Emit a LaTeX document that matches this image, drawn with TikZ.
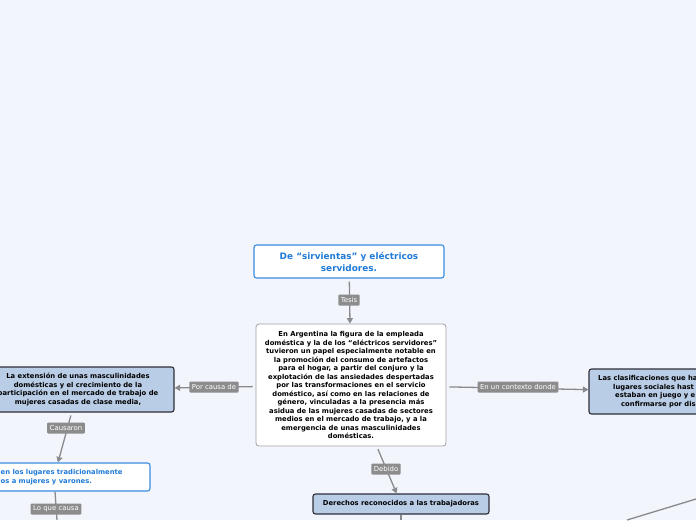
\documentclass[tikz,border=0pt]{standalone}
\usepackage{fontspec}
\setmainfont{DejaVu Sans}
\usetikzlibrary{arrows.meta}
\definecolor{bg}{HTML}{F3F5FD}
\definecolor{boxblue}{HTML}{B9CDE6}
\definecolor{darkline}{HTML}{2E2E38}
\definecolor{conncol}{HTML}{8A8A8E}
\definecolor{labcol}{HTML}{8C8C8C}
\definecolor{tblue}{HTML}{1F7AD8}
\definecolor{bblue}{HTML}{3A8DE0}
\definecolor{cgray}{HTML}{A0A0A8}
\begin{document}
\begin{tikzpicture}[x=1pt,y=-1pt,
  txt/.style={font=\fontsize{6.8}{8.5}\selectfont\bfseries, align=center, inner sep=0pt},
  bluebox/.style={txt, draw=darkline, fill=boxblue, rounded corners=2.5pt, line width=1.1pt},
  whitebox/.style={txt, draw=bblue, fill=white, text=tblue, rounded corners=2.5pt, line width=1.1pt},
  centralbox/.style={txt, draw=cgray, fill=white, rounded corners=3pt, line width=0.8pt},
  conn/.style={draw=conncol, line width=1.3pt},
  arr/.style={conn, -{Triangle[length=5.5pt,width=6pt]}, shorten <=3pt},
  lbl/.style={fill=labcol, text=white, font=\fontsize{6.9}{7}\selectfont, inner xsep=2.5pt, inner ysep=0pt, minimum height=11pt, rounded corners=1pt}
]
\useasboundingbox (0,0) rectangle (696,520);
\fill[bg] (0,0) rectangle (696,520);
\clip (0,0) rectangle (696,520);

% nodes
\node[whitebox, minimum width=190pt, minimum height=33pt, font=\fontsize{8.9}{12}\selectfont\bfseries] (title) at (349,261.5)
  {De “sirvientas” y eléctricos\\servidores.};
\node[centralbox, minimum width=190pt, minimum height=122pt] (central) at (351,385)
  {En Argentina la figura de la empleada\\
   doméstica y la de los “eléctricos servidores”\\
   tuvieron un papel especialmente notable en\\
   la promoción del consumo de artefactos\\
   para el hogar, a partir del conjuro y la\\
   explotación de las ansiedades despertadas\\
   por las transformaciones en el servicio\\
   doméstico, así como en las relaciones de\\
   género, vinculadas a la presencia más\\
   asidua de las mujeres casadas de sectores\\
   medios en el mercado de trabajo, y a la\\
   emergencia de unas masculinidades\\
   domésticas.};
\node[bluebox, minimum width=192pt, minimum height=45pt] (ext) at (78,389.5)
  {La extensión de unas masculinidades\\
   domésticas y el crecimiento de la\\
   participación en el mercado de trabajo de\\
   mujeres casadas de clase media,};
\node[whitebox, minimum width=192pt, minimum height=28pt] (cambios) at (54,477) {};
\node[txt, text=tblue, align=left, anchor=west] (cambiostext) at (0.5,477)
  {en los lugares tradicionalmente\\os a mujeres y varones.};
\node[bluebox, minimum width=176pt, minimum height=20pt] (derechos) at (401,504)
  {Derechos reconocidos a las trabajadoras};
\node[bluebox, minimum width=192pt, minimum height=45pt] (clasif) at (685,391.5) {};
\node[txt, align=left, anchor=west] (clasiftext) at (598,391.5)
  {Las clasificaciones que ha\\
   \hspace*{15pt}lugares sociales hast\\
   \hspace*{17pt}estaban en juego y e\\
   \hspace*{23pt}confirmarse por dis};

\coordinate (offA) at (57,520);
\coordinate (offB) at (401,520);
\coordinate (offC) at (627,520);
\coordinate (offD) at (696,499);

% connectors
\draw[arr] (title) -- (central);
\draw[arr] (central) -- (ext);
\draw[arr] (central) -- (clasif);
\draw[arr] (central) -- (derechos);
\draw[arr] (ext) -- (cambios);
\draw[conn] (cambios.south -| 55,0) -- (offA);
\draw[conn] (derechos.south) -- (offB);
\draw[conn] (offC) -- (offD);

% labels
\node[lbl] (l1) at (349,300) {Tesis};
\node[lbl] (l2) at (214,387) {Por causa de};
\node[lbl] (l3) at (518,387) {En un contexto donde};
\node[lbl] (l4) at (66,428) {Causaron};
\node[lbl] (l5) at (56,509) {Lo que causa};
\node[lbl] (l6) at (386,469) {Debido};
\end{tikzpicture}
\end{document}
